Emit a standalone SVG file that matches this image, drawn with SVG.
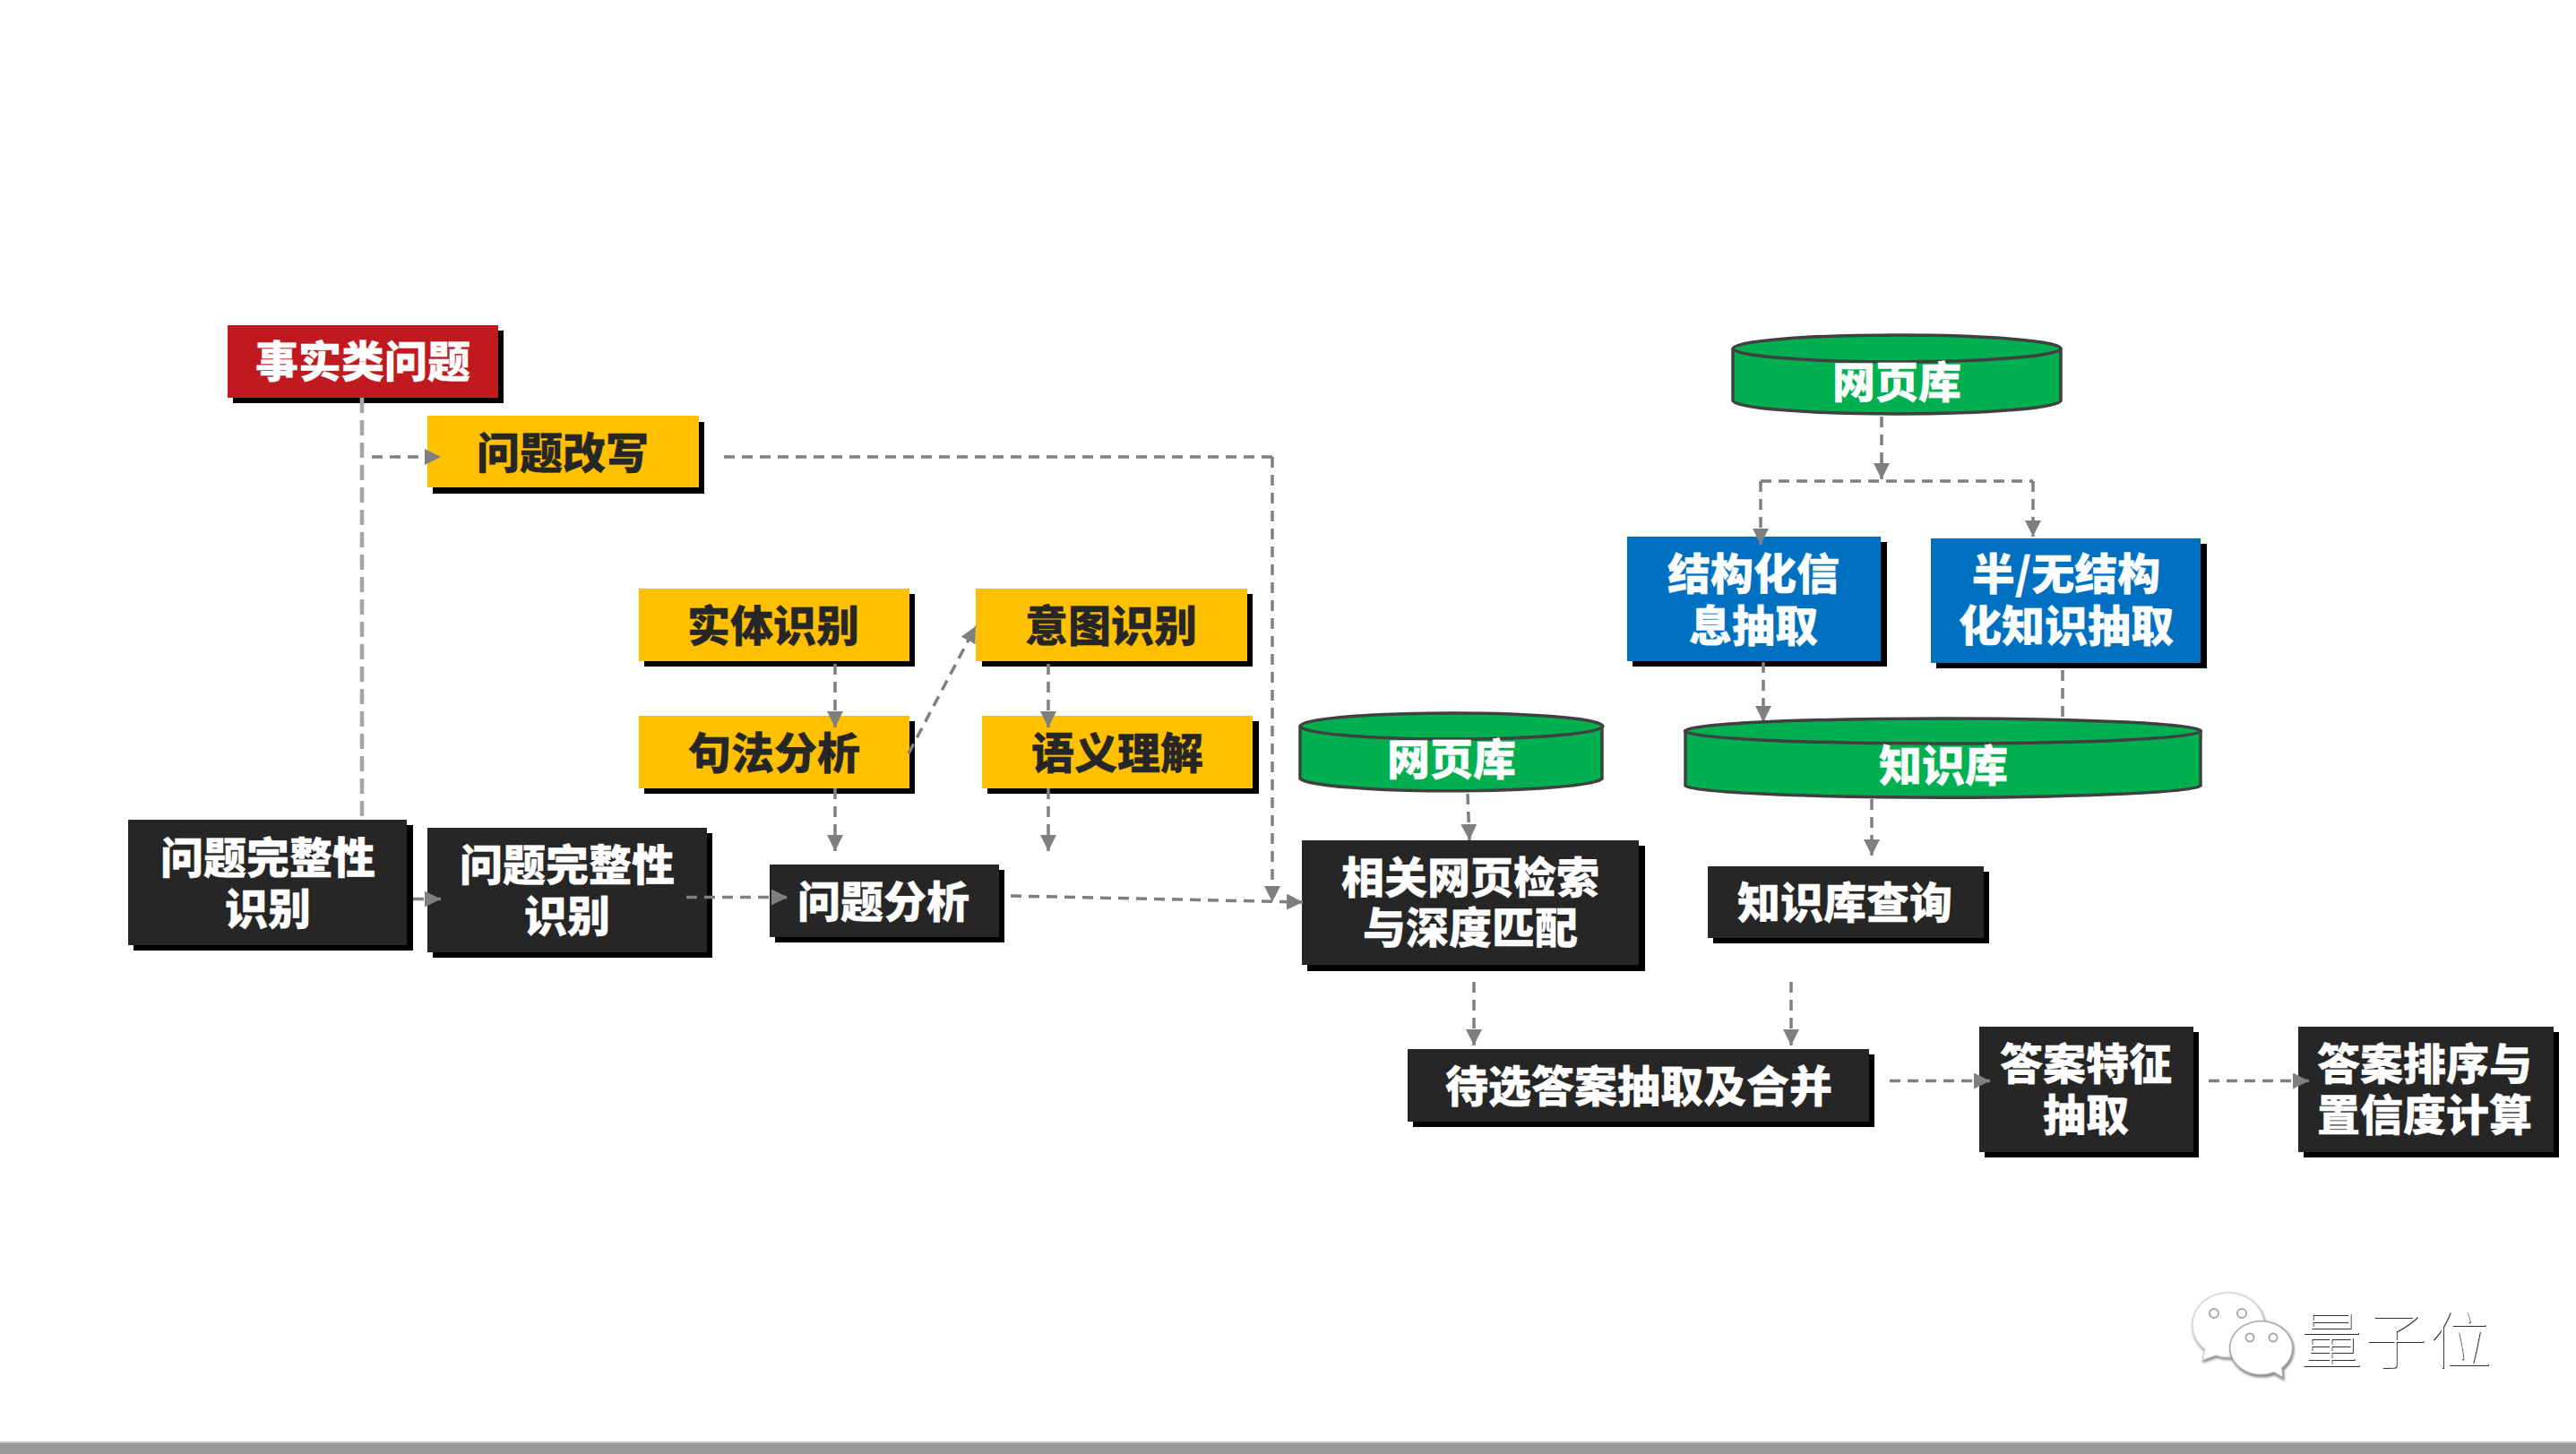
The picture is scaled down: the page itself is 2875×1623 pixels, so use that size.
<svg xmlns="http://www.w3.org/2000/svg" width="2875" height="1623" viewBox="0 0 2875 1623">
<style>
text{font-family:"Noto Sans CJK SC","Noto Sans CJK TC",sans-serif;font-size:48px;font-weight:900;text-anchor:middle;stroke-width:0.3px}
.s{fill:#000}
.k{fill:#262626}.y{fill:#ffc000}.r{fill:#c01920}.b{fill:#0070c0}
.g{fill:#00b050;stroke:#404040;stroke-width:3.5}
.w{fill:#fff;stroke:#fff}.d{fill:#262626;stroke:#262626}
.c{fill:none;stroke:#7f7f7f;stroke-width:3.5;stroke-dasharray:12 8}
.a{marker-end:url(#h)}
.bub{fill:#fff;stroke:#d4d4d4;stroke-width:1.5;filter:url(#soft)}
.eye{fill:#fff;stroke:#a8a8a8;stroke-width:2}
text.wm{font-size:69px;font-weight:100;fill:#fff;stroke:none;letter-spacing:3px;filter:url(#emb)}
</style>
<defs>
<marker id="h" markerUnits="userSpaceOnUse" markerWidth="19" markerHeight="19" refX="18" refY="9" orient="auto"><path d="M0,0L18,9L0,18Z" fill="#7f7f7f"/></marker>
<filter id="soft" x="-20%" y="-20%" width="140%" height="140%"><feDropShadow dx="1" dy="2" stdDeviation="1.5" flood-color="#777"/></filter>
<filter id="emb" x="-5%" y="-5%" width="110%" height="110%"><feDropShadow dx="1" dy="1" stdDeviation="0.2" flood-color="#333"/></filter>
</defs>
<rect width="2875" height="1623" fill="#fff"/>
<rect y="1609" width="2875" height="14" fill="#999"/>
<rect y="1609" width="2875" height="2" fill="#c0c0c0"/>

<g id="n-fact"><rect class="s" x="260" y="369" width="302" height="81"/><rect class="r" x="254" y="363" width="302" height="81"/><text class="w" x="405" y="421">事实类问题</text></g>
<g id="n-rewrite"><rect class="s" x="483" y="471" width="303" height="80"/><rect class="y" x="477" y="464" width="303" height="80"/><text class="d" x="628" y="523">问题改写</text></g>
<g id="n-complete1"><rect class="s" x="149" y="921" width="312" height="140"/><rect class="k" x="143" y="915" width="311" height="140"/><text class="w" x="299" y="975">问题完整性</text><text class="w" x="299" y="1032">识别</text></g>
<g id="n-complete2"><rect class="s" x="483" y="930" width="312" height="139"/><rect class="k" x="477" y="924" width="312" height="139"/><text class="w" x="633" y="983">问题完整性</text><text class="w" x="633" y="1040">识别</text></g>
<g id="n-entity"><rect class="s" x="719" y="663" width="302" height="81"/><rect class="y" x="713" y="657" width="302" height="81"/><text class="d" x="863" y="716">实体识别</text></g>
<g id="n-intent"><rect class="s" x="1096" y="663" width="302" height="81"/><rect class="y" x="1089" y="657" width="303" height="81"/><text class="d" x="1240" y="716">意图识别</text></g>
<g id="n-syntax"><rect class="s" x="719" y="805" width="302" height="81"/><rect class="y" x="713" y="799" width="302" height="81"/><text class="d" x="864" y="858">句法分析</text></g>
<g id="n-semantic"><rect class="s" x="1102" y="805" width="303" height="81"/><rect class="y" x="1096" y="799" width="302" height="81"/><text class="d" x="1247" y="858">语义理解</text></g>
<g id="n-analysis"><rect class="s" x="865" y="971" width="256" height="81"/><rect class="k" x="859" y="965" width="256" height="81"/><text class="w" x="986" y="1024">问题分析</text></g>
<g id="n-web1"><path class="g" d="M1934,389V447A183,15 0 0 0 2300,447V389"/><ellipse class="g" cx="2117" cy="389" rx="183" ry="15"/><text class="w" x="2117" y="444">网页库</text></g>
<g id="n-struct"><rect class="s" x="1822" y="605" width="284" height="139"/><rect class="b" x="1816" y="599" width="283" height="139"/><text class="w" x="1957" y="658">结构化信</text><text class="w" x="1957" y="716">息抽取</text></g>
<g id="n-semi"><rect class="s" x="2161" y="607" width="302" height="139"/><rect class="b" x="2155" y="601" width="301" height="139"/><text class="w" x="2306" y="658">半/无结构</text><text class="w" x="2306" y="716">化知识抽取</text></g>
<g id="n-web2"><path class="g" d="M1451,810V869A169,15 0 0 0 1788,869V810"/><ellipse class="g" cx="1620" cy="810.500" rx="169" ry="14.500"/><text class="w" x="1620" y="865">网页库</text></g>
<g id="n-search"><rect class="s" x="1459" y="944" width="377" height="140"/><rect class="k" x="1453" y="938" width="376" height="139"/><text class="w" x="1641" y="997">相关网页检索</text><text class="w" x="1641" y="1053">与深度匹配</text></g>
<g id="n-kbquery"><rect class="s" x="1912" y="973" width="308" height="80"/><rect class="k" x="1906" y="967" width="308" height="80"/><text class="w" x="2059" y="1025">知识库查询</text></g>
<g id="n-candidate"><rect class="s" x="1577" y="1177" width="515" height="81"/><rect class="k" x="1571" y="1171" width="515" height="81"/><text class="w" x="1829" y="1230">待选答案抽取及合并</text></g>
<g id="n-feature"><rect class="s" x="2215" y="1152" width="239" height="140"/><rect class="k" x="2209" y="1146" width="239" height="140"/><text class="w" x="2328" y="1205">答案特征</text><text class="w" x="2328" y="1262">抽取</text></g>
<g id="n-rank"><rect class="s" x="2571" y="1152" width="285" height="140"/><rect class="k" x="2565" y="1146" width="285" height="140"/><text class="w" x="2706" y="1205">答案排序与</text><text class="w" x="2706" y="1262">置信度计算</text></g>

<g id="connectors">
<path d="M404,444V911" fill="none" stroke="#a6a6a6" stroke-width="4.500" stroke-dasharray="17 8"/>
<path class="c a" d="M415,510H492"/>
<path class="c a" d="M461,1003.500H492"/>
<path class="c a" d="M766,1001.500H879"/>
<path class="c" d="M808,510H1420"/>
<path class="c a" d="M1420,510V1007"/>
<path class="c a" d="M1128,1000L1454,1007"/>
<path class="c a" d="M932,741V812"/>
<path class="c a" d="M1170,741V812"/>
<path class="c a" d="M932,880V950"/>
<path class="c a" d="M1170,880V950"/>
<path class="c a" d="M1014,841L1089,699"/>
<path class="c a" d="M2100,465V535"/>
<path class="c" d="M1965,537H2269"/>
<path class="c a" d="M1965,537V608"/>
<path class="c a" d="M2269,537V599"/>
<path class="c a" d="M1968,739V806"/>
<path class="c a" d="M2302,748V820"/>
<path class="c a" d="M1638,886L1640,938"/>
<path class="c a" d="M2089,892V955"/>
<path class="c a" d="M1645,1096V1167"/>
<path class="c a" d="M1999,1096V1167"/>
<path class="c a" d="M2109,1206.500H2221"/>
<path class="c a" d="M2465,1206.500H2577"/>
</g>

<g id="n-kb"><path class="g" d="M1881,816V877A288,14 0 0 0 2456,877V816"/><ellipse class="g" cx="2168.500" cy="816" rx="288" ry="14"/><text class="w" x="2169" y="872">知识库</text></g>

<g id="watermark">
<path class="bub" d="M2473,1512.700A40,36 0 1 0 2461,1506.400L2458,1518Z"/>
<circle class="eye" cx="2471" cy="1466" r="5"/><circle class="eye" cx="2502" cy="1466" r="5"/>
<path class="bub" style="stroke:#a8a8a8" d="M2538,1532L2548,1538L2547,1527A35,30 0 1 0 2538,1532Z"/>
<circle class="eye" cx="2511" cy="1493" r="4.500"/><circle class="eye" cx="2537" cy="1493" r="4.500"/>
<text class="wm" x="2675" y="1522">量子位</text>
</g>
</svg>
